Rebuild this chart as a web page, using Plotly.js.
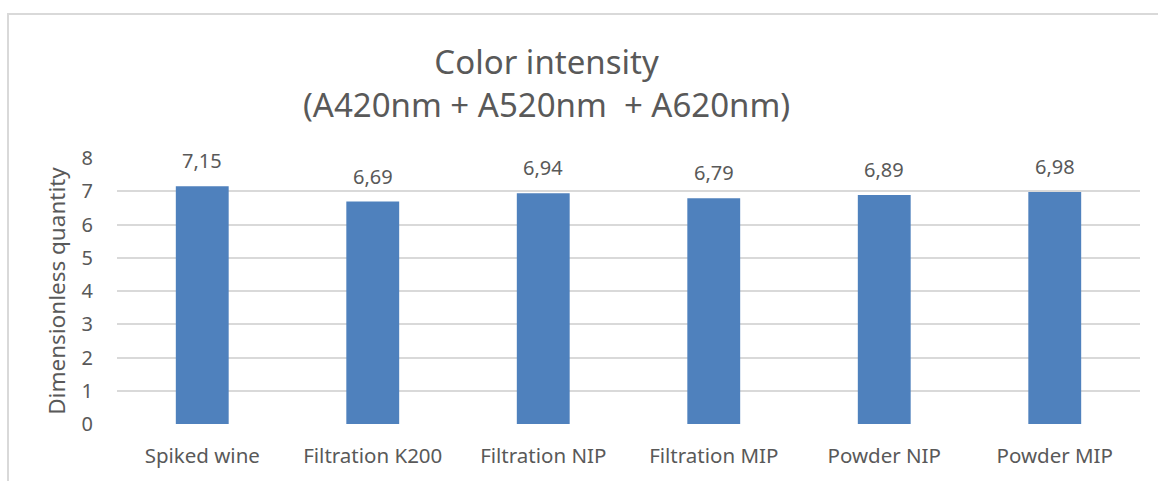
<!DOCTYPE html>
<html>
<head>
<meta charset="utf-8">
<script src="https://cdn.plot.ly/plotly-3.0.1.min.js"></script>
<style>
html,body{margin:0;padding:0;background:#fff;}
#wrap{position:relative;width:1158px;height:481px;overflow:hidden;}
#frame{position:absolute;left:7px;top:13px;width:1200px;height:600px;border-left:2px solid #D9D9D9;border-top:2px solid #D9D9D9;pointer-events:none;}
#chart{position:absolute;left:0;top:0;width:1158px;height:481px;}
</style>
</head>
<body>
<div id="wrap"><div id="chart"></div><div id="frame"></div></div>
<script>
const categories = ["Spiked wine", "Filtration K200", "Filtration NIP", "Filtration MIP", "Powder NIP", "Powder MIP"];
const values = [7.15, 6.69, 6.94, 6.79, 6.89, 6.98];
const yTicks = [0, 1, 2, 3, 4, 5, 6, 7, 8];

const FONT = "Noto Sans, Open Sans, sans-serif";
const TXT = "#595959";

const trace = {
  type: "bar",
  x: categories,
  y: values,
  marker: {color: "#4F81BD"},
  hoverinfo: "x+y"
};

const annotations = categories.map((c, i) => ({
  x: c, y: values[i], xref: "x", yref: "y",
  text: values[i].toFixed(2).replace(".", ","),
  showarrow: false, yanchor: "bottom", yshift: 10,
  font: {family: FONT, size: 20, color: TXT}
}));

const layout = {
  width: 1158, height: 481,
  margin: {l: 117, r: 18, t: 158, b: 57},
  paper_bgcolor: "#ffffff", plot_bgcolor: "#ffffff",
  showlegend: false,
  bargap: 0.69,
  title: {
    text: "Color intensity<br>(A420nm + A520nm  + A620nm)",
    font: {family: FONT, size: 33, color: TXT, lineposition: "none"},
    x: 0.472, xanchor: "center", y: 0.846, yanchor: "top"
  },
  xaxis: {
    type: "category",
    tickfont: {family: FONT, size: 20.5, color: TXT},
    showgrid: false, zeroline: false, showline: false,
    ticks: "", ticklabelstandoff: 17
  },
  yaxis: {
    range: [0, 8],
    tickvals: yTicks,
    tickfont: {family: FONT, size: 20, color: TXT},
    gridcolor: "#D9D9D9", gridwidth: 2,
    zeroline: false, showline: false, ticks: "",
    ticklabelstandoff: 23,
    title: {text: "Dimensionless quantity", font: {family: FONT, size: 22.5, color: TXT}, standoff: 9}
  },
  annotations: annotations
};

Plotly.newPlot("chart", [trace], layout, {displayModeBar: false, staticPlot: true});
</script>
</body>
</html>
